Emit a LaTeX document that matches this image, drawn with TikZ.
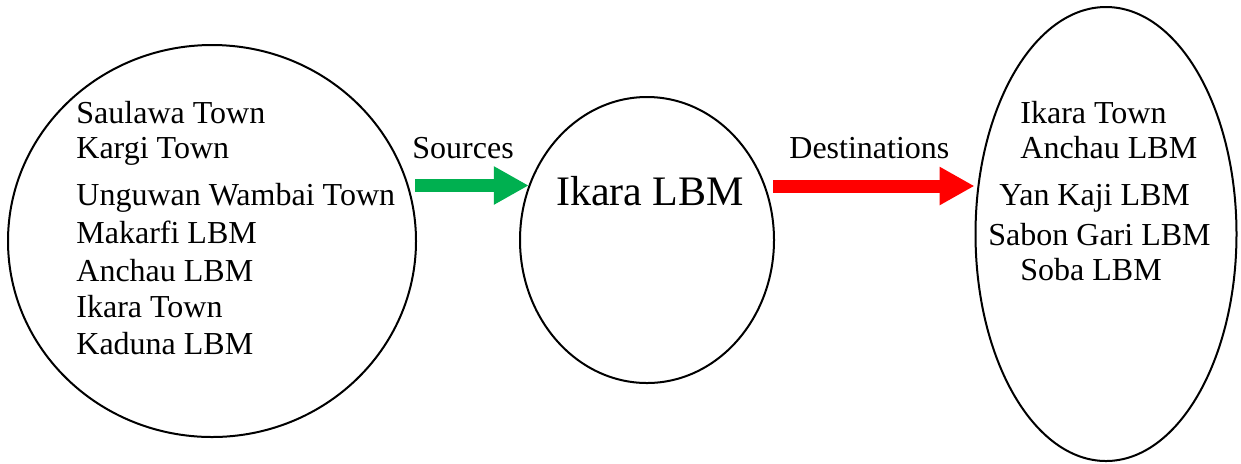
\documentclass[tikz,border=0pt]{standalone}
\usepackage{fontspec}
\setmainfont{Liberation Serif}
\usetikzlibrary{shapes.geometric, arrows.meta}
\definecolor{srcgreen}{RGB}{0,176,80}
\definecolor{dstred}{RGB}{255,0,0}
\tikzset{
  zone/.style={ellipse, draw, line width=1pt, inner sep=0pt},
  place/.style={anchor=base west, inner sep=0pt, font=\fontsize{16}{19}\selectfont},
  flow/.style={line width=6.5pt, -{Triangle[length=17.5pt, width=18pt]}},
}

\begin{document}
\begin{tikzpicture}[x=0.5pt, y=-0.5pt]
\useasboundingbox (0,0) rectangle (1241,463);
% the three areas
\node[zone, minimum width=204pt, minimum height=196pt] (src) at (212,241) {};
\node[zone, minimum width=127pt, minimum height=143pt] (hub) at (647,240) {};
\node[zone, minimum width=130.5pt, minimum height=227pt] (dst) at (1106,234) {};
\node[anchor=base, inner sep=0pt, font=\fontsize{21}{25}\selectfont] (hubname) at (650,205) {Ikara LBM};
% sources
\foreach \y/\t [count=\i] in {123/Saulawa Town, 158/Kargi Town, 205/Unguwan Wambai Town,
  243/Makarfi LBM, 281/Anchau LBM, 317/Ikara Town, 354/Kaduna LBM}
  \node[place] (s\i) at (76,\y) {\t};
% destinations
\foreach \x/\y/\t [count=\i] in {1020/123/Ikara Town, 1020/158/Anchau LBM, 999/205/Yan Kaji LBM,
  988/245/Sabon Gari LBM, 1020/280/Soba LBM}
  \node[place] (d\i) at (\x,\y) {\t};
% flows
\node[place] (srclbl) at (412,158) {Sources};
\node[place] (dstlbl) at (789,158) {Destinations};
\coordinate (gs) at (415,185.5);
\coordinate (rs) at (773,186);
\draw[flow, srcgreen] (gs) -- (gs -| hub.155);
\draw[flow, dstred] (rs) -- (rs -| dst.west);
\end{tikzpicture}
\end{document}
